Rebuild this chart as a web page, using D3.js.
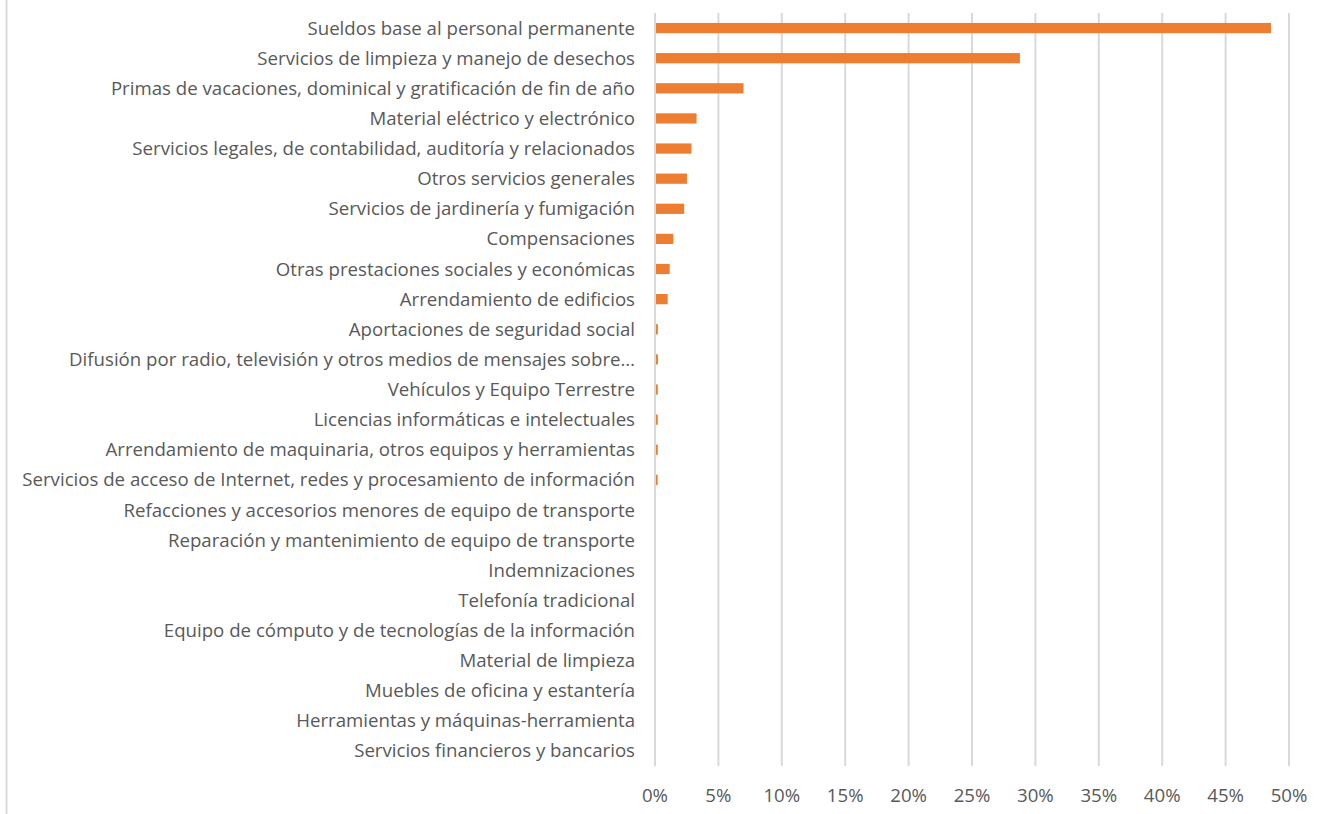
<!DOCTYPE html>
<html><head><meta charset="utf-8">
<script src="https://cdn.jsdelivr.net/npm/d3@7"></script>
<style>body{margin:0;background:#fff;}svg{display:block;}</style>
</head><body>
<svg id="chart" width="1321" height="814"></svg>
<script>
const categories = [
  "Sueldos base al personal permanente",
  "Servicios de limpieza y manejo de desechos",
  "Primas de vacaciones, dominical y gratificación de fin de año",
  "Material eléctrico y electrónico",
  "Servicios legales, de contabilidad, auditoría y relacionados",
  "Otros servicios generales",
  "Servicios de jardinería y fumigación",
  "Compensaciones",
  "Otras prestaciones sociales y económicas",
  "Arrendamiento de edificios",
  "Aportaciones de seguridad social",
  "Difusión por radio, televisión y otros medios de mensajes sobre…",
  "Vehículos y Equipo Terrestre",
  "Licencias informáticas e intelectuales",
  "Arrendamiento de maquinaria, otros equipos y herramientas",
  "Servicios de acceso de Internet, redes y procesamiento de información",
  "Refacciones y accesorios menores de equipo de transporte",
  "Reparación y mantenimiento de equipo de transporte",
  "Indemnizaciones",
  "Telefonía tradicional",
  "Equipo de cómputo y de tecnologías de la información",
  "Material de limpieza",
  "Muebles de oficina y estantería",
  "Herramientas y máquinas-herramienta",
  "Servicios financieros y bancarios"
];
const values = [0.485, 0.287, 0.069, 0.032, 0.028, 0.0244, 0.0222, 0.0137, 0.0108, 0.0092,
  0.0015, 0.0015, 0.0014, 0.0014, 0.0014, 0.0013, 0, 0, 0, 0, 0, 0, 0, 0, 0];
const tickValues = [0, 0.05, 0.10, 0.15, 0.20, 0.25, 0.30, 0.35, 0.40, 0.45, 0.50];
const tickLabels = ["0%","5%","10%","15%","20%","25%","30%","35%","40%","45%","50%"];

const svg = d3.select("#chart");
const FONT = "'Open Sans', 'Noto Sans', sans-serif";
const x = d3.scaleLinear().domain([0, 0.5]).range([655, 1289]);
const y = d3.scaleBand().domain(categories).range([13, 766]).paddingInner(0.66).paddingOuter(0.33);

// left border
svg.append("line").attr("x1", 6.5).attr("x2", 6.5).attr("y1", 0).attr("y2", 814)
  .attr("stroke", "#d9d9d9").attr("stroke-width", 2);

// gridlines
svg.append("g").selectAll("line").data(tickValues).join("line")
  .attr("x1", d => x(d)).attr("x2", d => x(d))
  .attr("y1", 13).attr("y2", 766)
  .attr("stroke", "#d9d9d9").attr("stroke-width", 2);

// bars
svg.append("g").selectAll("rect").data(categories).join("rect")
  .attr("x", x(0) + 1)
  .attr("y", d => y(d))
  .attr("width", (d, i) => Math.max(0, x(values[i]) - x(0)))
  .attr("height", y.bandwidth())
  .attr("fill", "#ED7D31");

// category labels
const labels = svg.append("g").selectAll("text").data(categories).join("text")
  .attr("x", 635)
  .attr("y", d => y(d) + y.bandwidth() / 2)
  .attr("dy", "0.35em")
  .attr("text-anchor", "end")
  .attr("fill", "#595959")
  .style("font-family", FONT)
  .style("font-size", "16px")
  .text(d => d);

let maxW = 0;
labels.each(function(){ maxW = Math.max(maxW, this.getComputedTextLength()); });
const fs = 16 * 613 / maxW;
labels.style("font-size", fs + "px");

// tick labels
svg.append("g").selectAll("text").data(tickValues).join("text")
  .attr("x", d => x(d))
  .attr("y", 795)
  .attr("dy", "0.35em")
  .attr("text-anchor", "middle")
  .attr("fill", "#595959")
  .style("font-family", FONT)
  .style("font-size", fs + "px")
  .text((d, i) => tickLabels[i]);
</script>
</body></html>
